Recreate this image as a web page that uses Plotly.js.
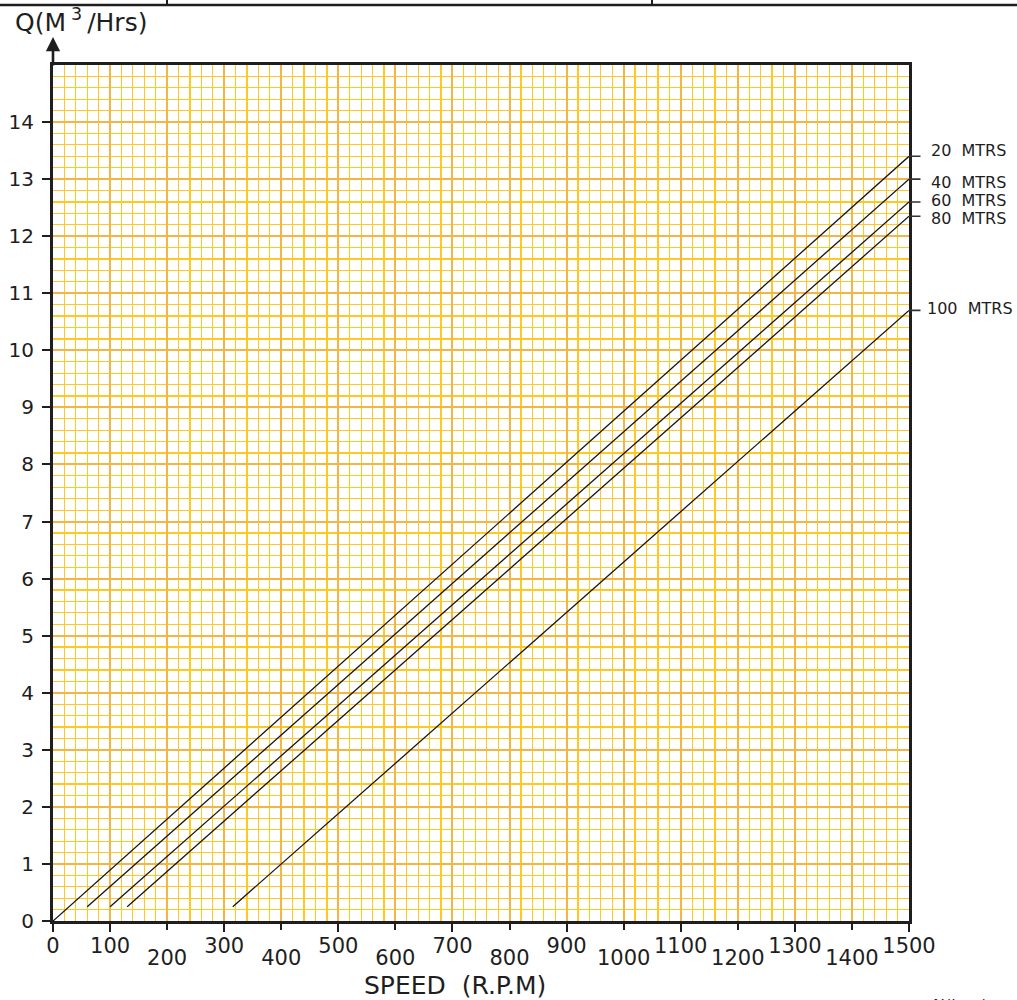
<!DOCTYPE html>
<html>
<head>
<meta charset="utf-8">
<script src="https://cdn.plot.ly/plotly-3.0.1.min.js"></script>
<style>
html,body{margin:0;padding:0;background:#fff;}
#chart{width:1017px;height:1000px;}
</style>
</head>
<body>
<div id="chart"></div>
<script>
// ---- data ----
const headLabels = ['20\u00a0\u00a0MTRS', '40\u00a0\u00a0MTRS', '60\u00a0\u00a0MTRS', '80\u00a0\u00a0MTRS', '100\u00a0\u00a0MTRS'];
const speedStart = [0, 60, 100, 130, 315];
const flowStart  = [0, 0.25, 0.25, 0.25, 0.25];
const speedEnd   = [1500, 1500, 1500, 1500, 1500];
const flowEnd    = [13.4, 13.0, 12.6, 12.35, 10.7];
const xTicksUpper = [0, 100, 300, 500, 700, 900, 1100, 1300, 1500];
const xTicksLower = [200, 400, 600, 800, 1000, 1200, 1400];
const yTicks = [0,1,2,3,4,5,6,7,8,9,10,11,12,13,14];

// ---- styling ----
const FONT = 'DejaVu Sans, Liberation Sans, sans-serif';
const INK = '#1e1e1e';
const labelNudge = [-6, 3, -1, 2, -2];   // small vertical offsets (px) of the label text
const W = 1017, H = 1000, ML = 53, MR = 108, MT = 65, MB = 79;
const PW = W - ML - MR, PH = H - MT - MB;
const px2x = p => (p - ML) / PW;
const py2y = p => (H - MB - p) / PH;

const traces = headLabels.map((name, i) => ({
  type: 'scatter', mode: 'lines', name: name,
  x: [speedStart[i], speedEnd[i]],
  y: [flowStart[i], flowEnd[i]],
  xaxis: i === headLabels.length - 1 ? 'x2' : 'x',
  line: {color: '#151515', width: 1.3},
  hoverinfo: 'skip', showlegend: false
}));

const annotations = [];
headLabels.forEach((name, i) => {
  annotations.push({
    xref: 'x', yref: 'y', x: speedEnd[i], y: flowEnd[i],
    text: '', showarrow: true, arrowhead: 0, arrowwidth: 1.6, arrowcolor: '#333',
    axref: 'pixel', ayref: 'pixel', ax: 13, ay: 0
  });
  annotations.push({
    xref: 'x', yref: 'y', x: speedEnd[i], y: flowEnd[i],
    text: name, showarrow: false, xanchor: 'left', yanchor: 'middle',
    xshift: i === headLabels.length - 1 ? 16 : 20, yshift: -labelNudge[i],
    font: {family: FONT, size: 16, color: INK}
  });
});
// y-axis title
annotations.push({
  xref: 'paper', yref: 'paper', x: px2x(13), y: py2y(20),
  text: 'Q(M\u2009<sup>3</sup>\u2009/Hrs)', showarrow: false, xanchor: 'left', yanchor: 'middle',
  font: {family: FONT, size: 25, color: INK}
});
// arrow on y axis
annotations.push({
  xref: 'x', yref: 'paper', x: 0, y: py2y(37),
  text: '', showarrow: true, arrowhead: 2, arrowsize: 1.1, arrowwidth: 2.6, arrowcolor: INK,
  axref: 'pixel', ayref: 'pixel', ax: 0, ay: 30
});
// x-axis title
annotations.push({
  xref: 'paper', yref: 'paper', x: px2x(455), y: py2y(985),
  text: 'SPEED\u00a0\u00a0(R.P.M)', showarrow: false, xanchor: 'center', yanchor: 'middle',
  font: {family: FONT, size: 25, color: INK}
});
// cut-off note at bottom right
annotations.push({
  xref: 'paper', yref: 'paper', x: px2x(960), y: py2y(994),
  text: 'N(lpm)', showarrow: false, xanchor: 'center', yanchor: 'top',
  font: {family: FONT, size: 16, color: INK}
});

const shapes = [
  {type: 'line', xref: 'paper', yref: 'paper', x0: px2x(0), x1: px2x(W), y0: py2y(5), y1: py2y(5), line: {color: INK, width: 2.5}},
  {type: 'line', xref: 'paper', yref: 'paper', x0: px2x(167), x1: px2x(167), y0: py2y(0), y1: py2y(5), line: {color: INK, width: 2}},
  {type: 'line', xref: 'paper', yref: 'paper', x0: px2x(652), x1: px2x(652), y0: py2y(0), y1: py2y(5), line: {color: INK, width: 2}}
];

const MINOR = '#FFC823', MAJOR = '#F3B646';
const xCommon = {
  range: [0, 1500], fixedrange: true, zeroline: false,
  tickmode: 'array', ticks: 'outside', ticklen: 8, tickwidth: 2, tickcolor: INK,
  tickfont: {family: FONT, size: 21, color: INK},
  showgrid: true, gridcolor: MAJOR, gridwidth: 2
};
const layout = {
  width: W, height: H,
  margin: {l: ML, r: MR, t: MT, b: MB, pad: 0},
  paper_bgcolor: '#ffffff', plot_bgcolor: '#ffffff',
  showlegend: false,
  xaxis: Object.assign({}, xCommon, {
    tickvals: xTicksUpper, ticktext: xTicksUpper.map(String), ticklabelstandoff: -4,
    showline: true, linecolor: INK, linewidth: 3, mirror: true,
    minor: {tickmode: 'linear', tick0: 0, dtick: 20, showgrid: true, gridcolor: MINOR, gridwidth: 1.2, ticks: ''}
  }),
  xaxis2: Object.assign({}, xCommon, {
    overlaying: 'x', side: 'bottom', anchor: 'y',
    tickvals: xTicksLower, ticktext: xTicksLower.map(String), ticklabelstandoff: 10,
    showline: false
  }),
  yaxis: {
    range: [0, 15], fixedrange: true, zeroline: false,
    tickmode: 'array', tickvals: yTicks, ticktext: yTicks.map(String),
    ticks: 'outside', ticklen: 8, tickwidth: 2, tickcolor: INK, ticklabelstandoff: 4,
    tickfont: {family: FONT, size: 20, color: INK},
    showline: true, linecolor: INK, linewidth: 3, mirror: true,
    showgrid: true, gridcolor: MAJOR, gridwidth: 2,
    minor: {tickmode: 'linear', tick0: 0, dtick: 0.2, showgrid: true, gridcolor: MINOR, gridwidth: 1.2, ticks: ''}
  },
  annotations: annotations,
  shapes: shapes
};

Plotly.newPlot('chart', traces, layout, {staticPlot: true, displayModeBar: false});
</script>
</body>
</html>
